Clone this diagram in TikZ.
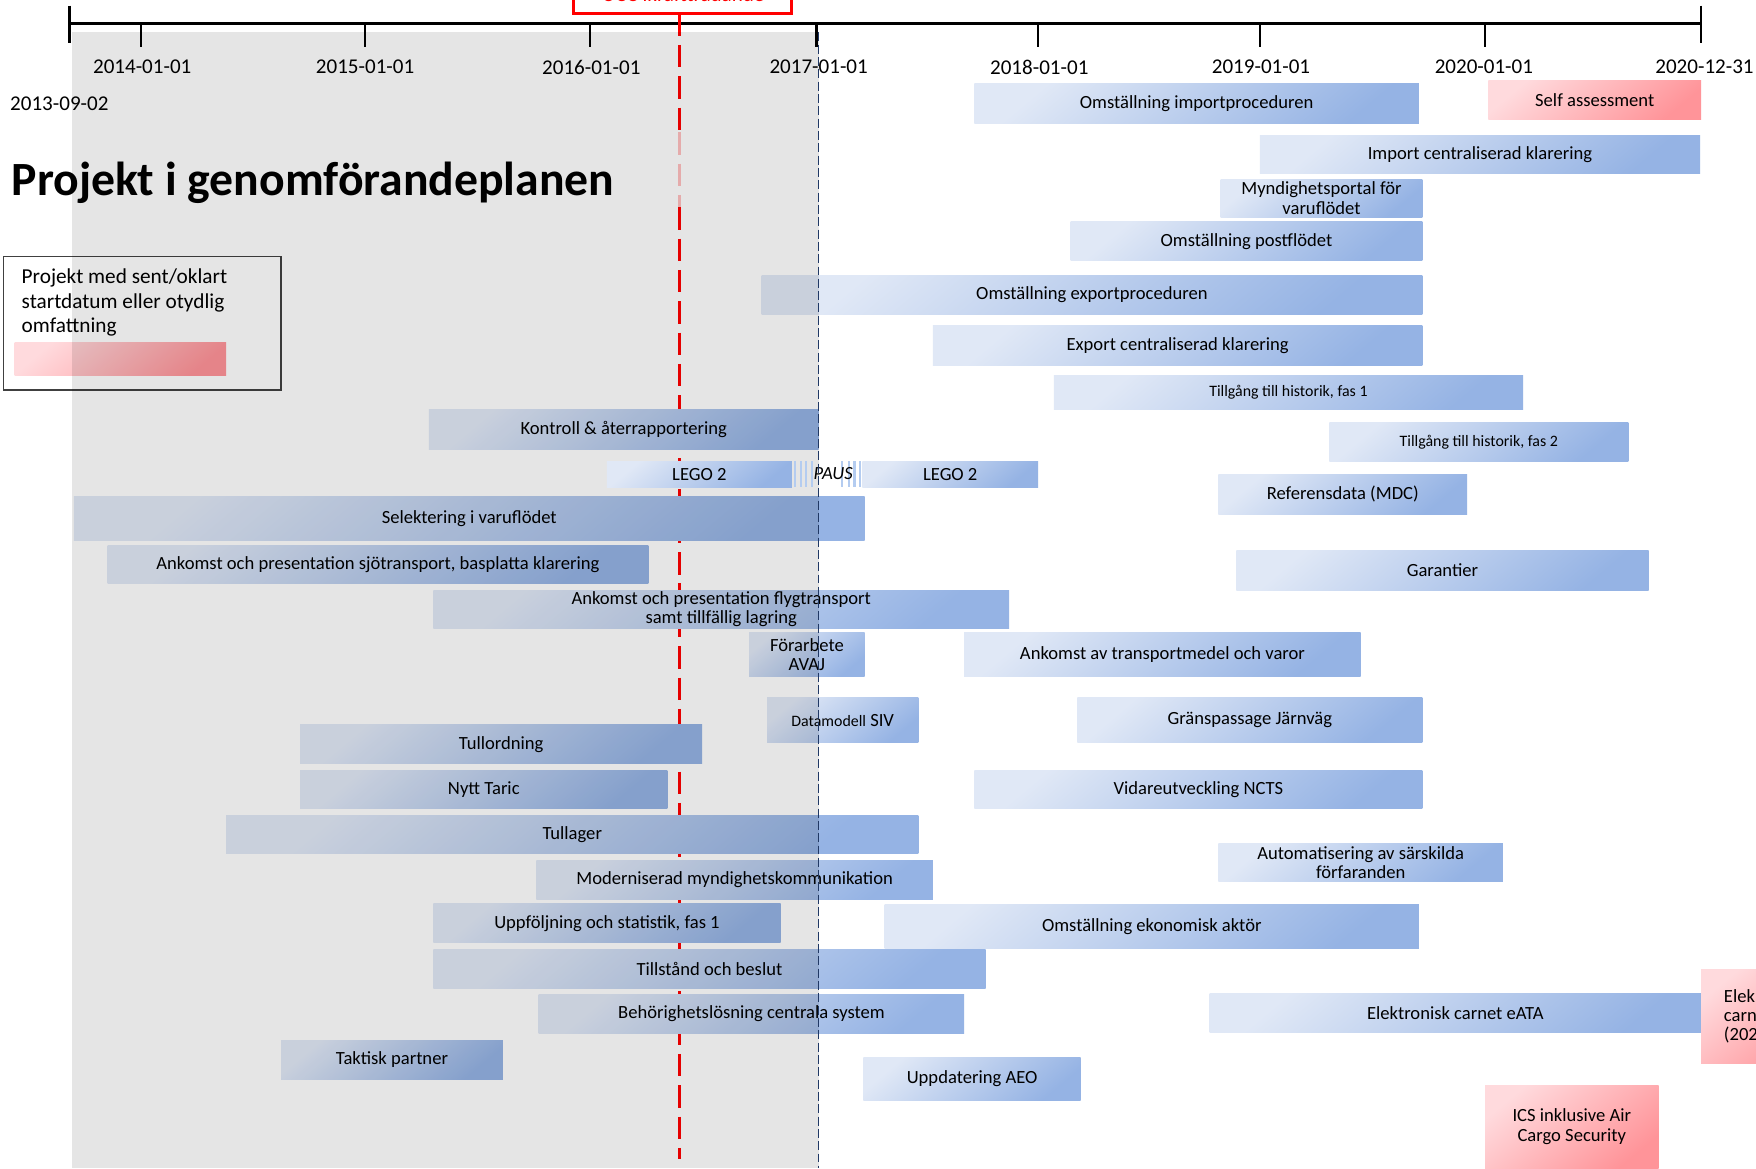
\documentclass[tikz,border=0pt]{standalone}
\usepackage{fontspec}
\setmainfont{Carlito}
\definecolor{bl1}{HTML}{E0E8F6}
\definecolor{bl2}{HTML}{95B3E4}
\definecolor{pk1}{HTML}{FFDADD}
\definecolor{pk2}{HTML}{FF9499}
\definecolor{grayov}{HTML}{E5E5E5}
\definecolor{navy}{HTML}{203864}
\definecolor{stripe}{HTML}{B4CCF0}
\newcommand\barfont{\fontsize{8.3}{8.6}\selectfont}
\newcommand\smallbarfont{\fontsize{7.1}{8}\selectfont}
\newcommand\datefont{\fontsize{9.4}{11}\selectfont}
\newcommand\legendfont{\fontsize{9.5}{10.75}\selectfont}
\newcommand\titlefont{\fontsize{21.3}{25}\selectfont\bfseries}
\tikzset{
  bluebar/.style={top color=bl1, bottom color=bl2, shading angle=40, inner sep=0pt, outer sep=0pt, font=\barfont, align=center, text=black},
  pinkbar/.style={top color=pk1, bottom color=pk2, shading angle=40},
  datelabel/.style={font=\datefont, inner sep=0pt},
  axisline/.style={line width=1.2pt, black},
  tickline/.style={line width=1pt, black},
  reddash/.style={red, line width=1.2pt, dash pattern=on 10pt off 4pt},
  navydash/.style={navy, line width=0.5pt, dash pattern=on 4pt off 1.5pt},
}
% #1 extra options, #2 name, #3 x1, #4 y1, #5 x2, #6 y2, #7 text
\newcommand\pbar[7][]{%
  \node[bluebar, minimum width={(#5-#3)*0.5pt}, minimum height={(#6-#4)*0.5pt}, #1] (#2) at ({(#3+#5)/2},{(#4+#6)/2}) {#7};}
\begin{document}
\begin{tikzpicture}[x=0.5pt, y=-0.5pt]
\useasboundingbox (0,0) rectangle (1568,1043);
\fill[white] (0,0) rectangle (1568,1043);

% red box at top (cut off)
\node[draw=red, line width=1.5pt, minimum width=97.5pt, minimum height=25pt, inner sep=0pt] (ucc) at (609.5,-13) {};
\node[red, font=\datefont, anchor=base, inner sep=0pt] (ucctext) at (610,1.5) {UCC ikraftträdande};

% axis
\draw[axisline] (62,21) coordinate (a0) -- (1519,21) coordinate (a1);
\draw[tickline] (62,5) -- (62,38);
\draw[tickline] (1519,5) -- (1519,38);
\foreach \xx in {126,326,527,729,927,1125,1326} \draw[tickline] (\xx,21) -- (\xx,42);

% red dashed line
\draw[reddash] (607,12) -- (607,118);
\draw[reddash, opacity=0.25] (607,118) -- (607,185);
\draw[reddash] (607,185) -- (607,1035);

% bars
\pbar{imp}{870}{75}{1267}{110}{Omställning importproceduren}
\pbar[pinkbar]{self}{1329}{72}{1519}{107}{Self assessment}
\pbar{icent}{1125}{121}{1518}{155}{Import centraliserad klarering}
\pbar{mynd}{1090}{160}{1270}{194}{Myndighetsportal för\\varuflödet}
\pbar{post}{956}{198}{1270}{233}{Omställning postflödet}
\pbar{exp}{680}{246}{1270}{281}{Omställning exportproceduren}
\pbar{ecent}{833}{291}{1270}{326}{Export centraliserad klarering}
\pbar[font=\smallbarfont]{hist1}{941}{335}{1360}{366}{Tillgång till historik, fas 1}
\pbar[font=\smallbarfont]{hist2}{1187}{377}{1454}{412}{Tillgång till historik, fas 2}
\pbar{kontr}{383}{366}{731}{401}{Kontroll \& återrapportering}
\pbar{mdc}{1088}{424}{1310}{459}{Referensdata (MDC)}
\pbar{sel}{66}{443}{772}{483}{Selektering i varuflödet}
\pbar{sjo}{96}{487}{579}{521}{Ankomst och presentation sjötransport, basplatta klarering}
\pbar{gar}{1104}{492}{1472}{527}{Garantier}
\pbar{flyg}{387}{527}{901}{561}{Ankomst och presentation flygtransport\\samt tillfällig lagring}
\pbar{avaj}{669}{565}{772}{604}{Förarbete\\AVAJ}
\pbar{ankv}{861}{565}{1215}{604}{Ankomst av transportmedel och varor}
\pbar{siv}{685}{623}{820}{663}{{\smallbarfont Datamodell} SIV}
\pbar{jarn}{962}{623}{1270}{663}{Gränspassage Järnväg}
\pbar{tullo}{268}{647}{627}{682}{Tullordning}
\pbar{taric}{268}{688}{596}{722}{Nytt Taric}
\pbar{ncts}{870}{688}{1270}{722}{Vidareutveckling NCTS}
\pbar{tullag}{202}{728}{820}{762}{Tullager}
\pbar{auto}{1088}{753}{1342}{787}{Automatisering av särskilda\\förfaranden}
\pbar{mod}{479}{768}{833}{803}{Moderniserad myndighetskommunikation}
\pbar{uppf}{387}{807}{697}{842}{Uppföljning och statistik, fas 1}
\pbar{ekon}{790}{808}{1267}{847}{Omställning ekonomisk aktör}
\pbar{tillst}{387}{848}{880}{883}{Tillstånd och beslut}
\pbar{behor}{481}{888}{861}{923}{Behörighetslösning centrala system}
\pbar{eata}{1080}{887}{1519}{922}{Elektronisk carnet eATA}
\pbar[pinkbar]{elek}{1519}{866}{1640}{950}{}
\node[font=\barfont, align=left, anchor=north west, inner sep=0pt] (elektext) at (1539,883) {Elek\\carn\\(202};
\pbar{aeo}{771}{944}{965}{983}{Uppdatering AEO}
\pbar[pinkbar]{ics}{1326}{969}{1481}{1043}{ICS inklusive Air\\Cargo Security}
\pbar{takt}{251}{929}{449}{964}{Taktisk partner}

% title and legend
\node[font=\titlefont, anchor=base west, inner sep=0pt] (title) at (10,175) {Projekt i genomförandeplanen};
\node[draw=black!75, line width=0.7pt, minimum width=124pt, minimum height=59.5pt, inner sep=0pt] (legend) at (127,288.5) {};
\node[font=\legendfont, align=left, anchor=north west, inner sep=0pt] (legendtext) at (19,240) {Projekt med sent/oklart\\startdatum eller otydlig\\omfattning};
\pbar[pinkbar]{legendpink}{13}{306}{202}{335}{}

% gray overlay for the past
\begin{scope}[blend mode=multiply]
\fill[grayov] (64,29) rectangle (731,1043);
\end{scope}

% LEGO 2 with pause (on top)
\pbar{lego1}{542}{412}{707}{435}{LEGO 2}
\foreach \s in {709,714,719,724,751,757,762,767} \fill[stripe] (\s,412) rectangle ++(2,23);
\node[font=\barfont\itshape, inner sep=0pt] (paus) at (744,423) {PAUS};
\pbar{lego2}{770}{412}{927}{435}{LEGO 2}

% today line
\draw[navydash] (731,29) -- (731,1043);

% date labels
\node[datelabel] (d14) at (127,60) {2014-01-01};
\node[datelabel] (d15) at (326,60) {2015-01-01};
\node[datelabel] (d16) at (528,60) {2016-01-01};
\node[datelabel] (d17) at (731,60) {2017-01-01};
\node[datelabel] (d18) at (928,60) {2018-01-01};
\node[datelabel] (d19) at (1126,60) {2019-01-01};
\node[datelabel] (d20) at (1325,60) {2020-01-01};
\node[datelabel] (d21) at (1522,60) {2020-12-31};
\node[datelabel] (d13) at (53,93) {2013-09-02};
\end{tikzpicture}
\end{document}
